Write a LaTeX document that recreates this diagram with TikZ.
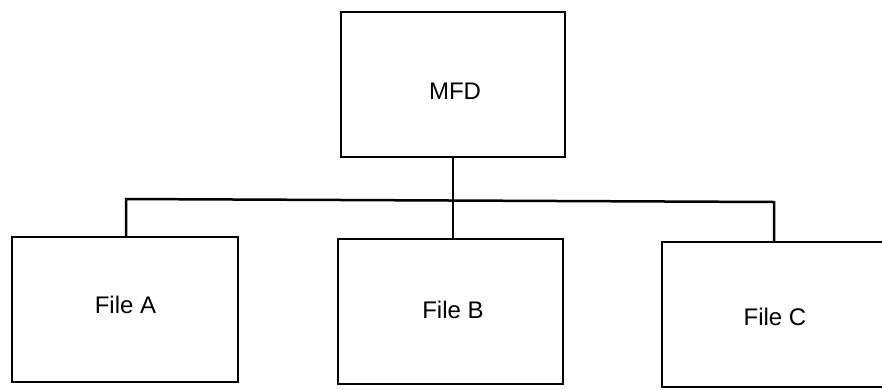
\documentclass[tikz,border=0pt]{standalone}
\usepackage{fontspec}
\setmainfont{Liberation Sans}
\begin{document}
\begin{tikzpicture}[x=1pt,y=-1pt,
  box/.style={draw=black,line width=2.5pt,minimum width=#1,minimum height=145pt,inner sep=0pt,outer sep=0pt},
  lbl/.style={font=\fontsize{24}{28}\selectfont,inner sep=0pt},
  conn/.style={draw=black,line width=2.5pt}]
\useasboundingbox (0,0) rectangle (882,389);
\clip (0,0) rectangle (882,389);
\node[box=224pt] (mfd) at (453,84.5) {};
\node[box=226pt] (fa) at (125,309.5) {};
\node[box=225pt] (fb) at (450.5,311.5) {};
\node[box=236pt] (fc) at (780,314.5) {};
\node[lbl] (tmfd) at (455,91) {MFD};
\node[lbl] (tfa) at (125.5,305) {File A};
\node[lbl] (tfb) at (453,310) {File B};
\node[lbl] (tfc) at (775,317) {File C};
\coordinate (barL) at (126,199);
\coordinate (barR) at (774,202);
\draw[conn] (mfd.south) -- (mfd.south |- fb.north);
\draw[conn] (barL |- fa.north) -- (barL) -- (barR) -- (barR |- fc.north);
\end{tikzpicture}
\end{document}
